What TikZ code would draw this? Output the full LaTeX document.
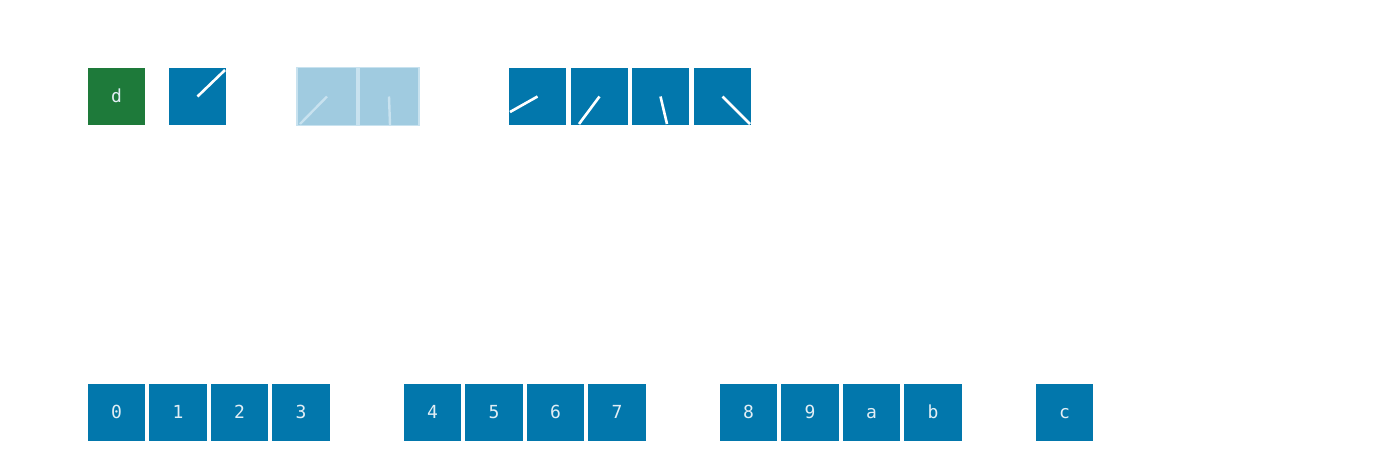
\documentclass[tikz,border=0pt]{standalone}
\usepackage{fontspec}
\setmonofont{DejaVu Sans Mono}
\definecolor{cblue}{RGB}{2,119,172}
\definecolor{cgreen}{RGB}{30,122,58}
\definecolor{clight}{RGB}{160,203,224}
\definecolor{clightb}{RGB}{200,226,239}
\definecolor{ctext}{RGB}{226,238,245}
\begin{document}
\begin{tikzpicture}[x=1pt,y=-1pt,
  cell/.style={minimum width=57.5pt,minimum height=57.5pt,inner sep=0pt,outer sep=0pt,fill=cblue,text=ctext,text height=12pt,text depth=0pt,font=\ttfamily\fontsize{18}{18}\selectfont},
  gcell/.style={cell,fill=cgreen},
  lcell/.style={cell,fill=clight,draw=clightb,line width=1.2pt,minimum width=60pt,minimum height=58pt},
  hand/.style={draw=white,line width=2.6pt},
  lhand/.style={draw=clightb,line width=2.4pt}]
\useasboundingbox (0,0) rectangle (1400,467);
% top row
\node[gcell] (d) at (116.5,96.5) {d};
\node[cell] (h) at (197.5,96.5) {};
\node[lcell] (l1) at (327,96.5) {};
\node[lcell] (l2) at (389,96.5) {};
\node[cell] (q1) at (537.5,96.5) {};
\node[cell] (q2) at (599.5,96.5) {};
\node[cell] (q3) at (660.5,96.5) {};
\node[cell] (q4) at (722.5,96.5) {};
\coordinate (hE) at (225,70);
\coordinate (l1E) at (300,124);
\coordinate (l2E) at (390,125);
\coordinate (q1E) at (510,112);
\coordinate (q2E) at (579,124);
\coordinate (q3E) at (667,124);
\coordinate (q4E) at (750,124);
\draw[hand] (h.center) -- (hE);
\draw[lhand] (l1.center) -- (l1E);
\draw[lhand] (l2.center) -- (l2E);
\draw[hand] (q1.center) -- (q1E);
\draw[hand] (q2.center) -- (q2E);
\draw[hand] (q3.center) -- (q3E);
\draw[hand] (q4.center) -- (q4E);
% bottom row
\node[cell] (b0) at (116.5,412.5) {0};
\node[cell] (b1) at (178,412.5) {1};
\node[cell] (b2) at (239.5,412.5) {2};
\node[cell] (b3) at (301,412.5) {3};
\node[cell] (b4) at (432.5,412.5) {4};
\node[cell] (b5) at (494,412.5) {5};
\node[cell] (b6) at (555.5,412.5) {6};
\node[cell] (b7) at (617,412.5) {7};
\node[cell] (b8) at (748.5,412.5) {8};
\node[cell] (b9) at (810,412.5) {9};
\node[cell] (ba) at (871.5,412.5) {a};
\node[cell] (bb) at (933,412.5) {b};
\node[cell] (bc) at (1064.5,412.5) {c};
\end{tikzpicture}
\end{document}
